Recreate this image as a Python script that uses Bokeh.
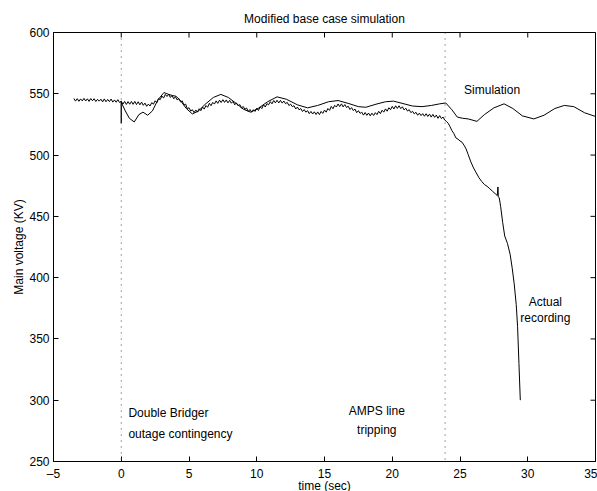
import numpy as np
from bokeh.plotting import figure
from bokeh.models import Label, Span, FixedTicker, Range1d, Title
from bokeh.embed import file_html
from bokeh.resources import INLINE

FONT = "Liberation Sans"

x_ticks = [-5, 0, 5, 10, 15, 20, 25, 30, 35]
y_ticks = [250, 300, 350, 400, 450, 500, 550, 600]

# Actual recording, regularly sampled part (t = -3.5 ... 23.875, step 0.125 s)
rec_start = -3.5
rec_step = 0.125
rec_v = [
    546.2, 544.0, 546.0, 543.9, 545.8, 544.2, 546.3, 544.1,
    545.9, 543.8, 546.1, 544.3, 546.0, 543.7, 545.5, 544.0,
    545.6, 543.4, 545.8, 543.5, 545.4, 543.6, 545.7, 543.2,
    545.0, 543.1, 545.2, 542.9,
    543.9, 541.6, 543.8, 541.3, 543.6, 541.5, 543.7, 541.4,
    543.8, 541.2, 543.5, 541.0, 543.2, 540.6, 542.4, 539.8,
    541.6, 540.0, 542.8, 541.5, 544.3, 542.6, 546.0, 545.2,
    548.2, 546.5, 549.5, 547.8, 549.6, 547.0, 548.6, 545.9,
    547.6, 545.0, 546.1, 543.4, 544.2, 540.8, 541.6, 537.8,
    538.6, 535.9, 537.0, 534.6, 536.8, 535.0, 537.8, 536.2,
    539.2, 537.5, 540.4, 539.0, 542.2, 540.3, 543.0, 541.6,
    544.2, 542.2, 544.8, 542.9, 545.2, 543.0, 545.0, 542.6,
    544.6, 542.3, 543.8, 541.0, 542.6, 540.2, 541.2, 538.4,
    539.7, 537.3, 538.4, 535.5, 537.2, 535.0, 537.0, 535.6,
    538.2, 536.4, 539.3, 537.9, 541.1, 539.2, 542.0, 541.0,
    543.6, 541.8, 544.5, 542.6, 544.7, 542.5, 544.6, 542.4,
    544.1, 541.9, 543.0, 540.4, 541.6, 539.5, 540.3, 537.6,
    539.2, 536.9, 538.0, 535.5, 537.1, 535.0, 536.2, 533.8,
    535.6, 533.5, 535.3, 533.1, 535.2, 533.0, 535.6, 534.0,
    536.7, 535.0, 538.0, 536.5, 539.7, 537.8, 540.6, 539.2,
    541.7, 539.6, 541.8, 539.3, 541.2, 538.8, 539.9, 537.2,
    538.7, 536.3, 537.5, 534.6, 536.2, 534.0, 535.0, 532.6,
    534.7, 532.4, 534.3, 532.0, 534.2, 532.3, 534.6, 533.0,
    535.7, 533.8, 536.6, 535.0, 537.7, 535.8, 538.6, 537.0,
    539.7, 537.6, 540.2, 538.1, 540.2, 537.9, 539.4, 536.8,
    538.2, 535.9, 537.0, 534.6, 535.7, 533.6, 534.9, 532.5,
    534.2, 532.2, 533.8, 531.7, 533.7, 531.5, 533.4, 531.0,
    533.2, 530.8, 532.6, 530.0, 532.2, 529.8, 531.0, 528.5,
]

# Actual recording, collapse after the AMPS line tripping
drop_t = [24.0, 24.125, 24.25, 24.4, 24.55, 24.7, 24.85, 25.0, 25.15, 25.3,
          25.45, 25.6, 25.8, 26.0, 26.2, 26.4, 26.6, 26.8, 27.0, 27.2,
          27.4, 27.6, 27.75, 27.8, 27.83, 27.9, 28.0, 28.15, 28.3, 28.5,
          28.7, 28.85, 29.0, 29.15, 29.25, 29.35, 29.45]
drop_v = [527.5, 526.0, 523.5, 520.0, 517.5, 514.0, 513.0, 511.5, 510.5, 508.0,
          505.0, 500.5, 494.5, 489.5, 485.5, 481.5, 478.5, 476.0, 474.5, 472.5,
          470.5, 468.5, 467.0, 474.0, 466.0, 465.0, 458.0, 445.0, 434.0, 428.0,
          419.0, 408.0, 395.0, 378.0, 360.0, 330.0, 300.0]

# Momentary dip of the recording at the contingency instant
spike_t = [0.0]
spike_top = [543.9]
spike_bottom = [526.0]

# Simulation
sim_t = [0.0, 0.3, 0.6, 0.96, 1.3, 1.6, 1.95, 2.3, 2.7, 3.15, 3.5, 3.8, 4.05,
         4.4, 4.8, 5.25, 5.7, 6.2, 6.8, 7.35, 7.9, 8.5, 9.0, 9.55, 10.1,
         10.8, 11.5, 12.2, 13.0, 13.75, 14.5, 15.3, 16.0, 16.8, 17.5, 18.05,
         18.8, 19.5, 20.1, 20.8, 21.5, 22.2, 22.9, 23.5, 23.95, 24.4, 24.8,
         25.2, 25.6, 26.25, 26.8, 27.5, 28.25, 28.9, 29.6, 30.45, 31.2, 32.0,
         32.7, 33.4, 34.2, 35.0]
sim_v = [543.0, 536.0, 530.0, 527.0, 533.0, 535.0, 532.5, 536.0, 545.0, 551.0,
         549.5, 548.5, 548.0, 544.0, 538.0, 533.5, 536.0, 541.5, 547.0, 549.5,
         547.0, 542.0, 537.5, 535.0, 538.0, 543.5, 547.5, 545.5, 541.0, 538.5,
         540.5, 543.5, 544.5, 542.0, 539.5, 539.0, 541.5, 543.5, 544.0, 542.0,
         540.0, 539.5, 540.5, 541.8, 542.5, 537.0, 531.0, 530.0, 529.5, 527.5,
         533.0, 538.5, 541.8, 538.0, 532.0, 529.5, 532.5, 538.0, 540.5, 539.5,
         534.5, 531.5]

event_t = [0.0, 23.9]

X_MIN, X_MAX = -5, 35
Y_MIN, Y_MAX = 250, 600

rec_t = rec_start + rec_step * np.arange(len(rec_v))
act_t = np.concatenate([rec_t, drop_t])
act_v = np.concatenate([rec_v, drop_v])

p = figure(width=597, height=491,
           x_range=Range1d(X_MIN, X_MAX), y_range=Range1d(Y_MIN, Y_MAX),
           output_backend="svg", toolbar_location=None,
           min_border_left=53, min_border_right=2,
           min_border_top=32, min_border_bottom=30,
           y_axis_label="Main voltage (KV)",
           title="Modified base case simulation")
p.background_fill_color = "white"
p.border_fill_color = "white"
p.grid.visible = False
p.outline_line_color = "black"
p.outline_line_width = 1
p.outline_line_alpha = 1

p.title.align = "center"
p.title.text_font = FONT
p.title.text_font_size = "12px"
p.title.text_font_style = "normal"
p.title.text_color = "black"
p.title.standoff = 13

def style_axis(ax, ticks):
    ax.ticker = FixedTicker(ticks=ticks)
    ax.major_tick_in = 5
    ax.major_tick_out = 0
    ax.minor_tick_in = 0
    ax.minor_tick_out = 0
    ax.axis_line_color = "black"
    ax.axis_line_width = 1
    ax.major_tick_line_color = "black"
    ax.major_tick_line_width = 1
    ax.major_label_text_font = FONT
    ax.major_label_text_font_size = "12px"
    ax.major_label_text_color = "black"
    ax.axis_label_text_font = FONT
    ax.axis_label_text_font_size = "12px"
    ax.axis_label_text_font_style = "normal"
    ax.axis_label_text_color = "black"

style_axis(p.xaxis[0], x_ticks)
style_axis(p.yaxis[0], y_ticks)
p.xaxis[0].major_label_overrides = {-5: "\u20135"}
p.xaxis[0].major_label_standoff = 5
p.yaxis[0].major_label_standoff = 4
p.yaxis[0].axis_label_standoff = 0

# x-axis title, in its own panel below the tick labels
p.add_layout(Title(text="time (sec)", align="center", vertical_align="top",
                   standoff=-10, text_font=FONT, text_font_size="12px",
                   text_font_style="normal", text_color="black"), "below")

# inward ticks on the top and right edges of the box
p.ray(x=x_ticks, y=[Y_MAX] * len(x_ticks), length=5, length_units="screen",
      angle=-np.pi / 2, line_color="black", line_width=1)
p.ray(x=[X_MAX] * len(y_ticks), y=y_ticks, length=5, length_units="screen",
      angle=np.pi, line_color="black", line_width=1)

for et in event_t:
    p.add_layout(Span(location=et, dimension="height", line_color="#444444",
                      line_width=1, line_dash="1 5"))

p.line(sim_t, sim_v, line_color="black", line_width=1)
p.line(act_t, act_v, line_color="black", line_width=1)
p.segment(x0=spike_t, y0=spike_top, x1=spike_t, y1=spike_bottom,
          line_color="black", line_width=1.3)

def add_label(x, y, text, align="left"):
    p.add_layout(Label(x=x, y=y, text=text, text_align=align,
                       text_baseline="middle", text_font=FONT,
                       text_font_size="12px", text_color="black"))

add_label(25.3, 552.7, "Simulation")
add_label(31.3, 380.0, "Actual", "center")
add_label(31.3, 367.2, "recording", "center")
add_label(0.53, 289.2, "Double Bridger")
add_label(0.53, 272.4, "outage contingency")
add_label(18.86, 291.2, "AMPS line", "center")
add_label(18.86, 276.1, "tripping", "center")

open("out.html", "w").write(file_html(p, INLINE))
